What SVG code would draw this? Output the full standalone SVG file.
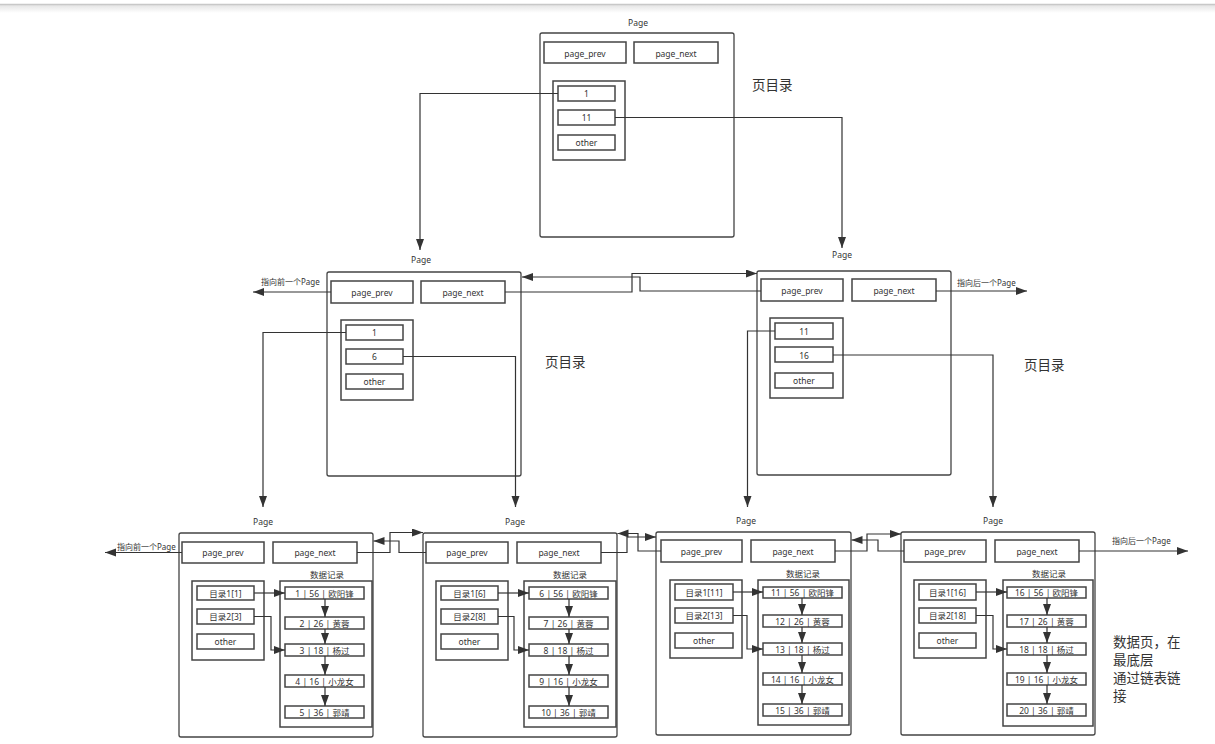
<svg xmlns="http://www.w3.org/2000/svg" width="1215" height="744" viewBox="0 0 1215 744">
<defs>
<marker id="ah" markerUnits="userSpaceOnUse" markerWidth="12" markerHeight="9" refX="11" refY="4" orient="auto">
<path d="M0,0 L11,4 L0,8 z" fill="#333"/>
</marker>
<linearGradient id="sh" x1="0" y1="0" x2="0" y2="1">
<stop offset="0" stop-color="#e4e4e4"/>
<stop offset="1" stop-color="#ffffff"/>
</linearGradient>
<style>
.pg{fill:#fff;stroke:#444;stroke-width:1.3}
.bx{fill:#fff;stroke:#444;stroke-width:1.5}
.t{font-family:"Noto Sans","Noto Sans CJK SC",sans-serif;font-size:8.5px;fill:#333;text-anchor:middle;dominant-baseline:central}
.tl{font-family:"Noto Sans","Noto Sans CJK SC",sans-serif;font-size:8px;fill:#333;dominant-baseline:central}
.big{font-family:"Noto Sans CJK SC",sans-serif;font-size:13.5px;fill:#333}
.ln{fill:none;stroke:#333;stroke-width:1.2}
.ar{fill:none;stroke:#333;stroke-width:1.2;marker-end:url(#ah)}
</style>
</defs>
<rect x="0" y="0" width="1215" height="744" fill="#fff"/>
<rect x="0" y="5" width="1215" height="8" fill="url(#sh)"/>
<line x1="0" y1="4.5" x2="1215" y2="4.5" stroke="#c8c8c8" stroke-width="1.5"/>

<!-- top page -->
<g id="page-top">
<text class="t" x="638" y="22">Page</text>
<rect class="pg" x="540" y="33" width="194" height="204" rx="2"/>
<rect class="bx" x="544" y="42" width="82" height="21"/><text class="t" x="585" y="53">page_prev</text>
<rect class="bx" x="634" y="42" width="84" height="21"/><text class="t" x="676" y="53">page_next</text>
<rect class="bx" x="553" y="81" width="72" height="79"/>
<rect class="bx" x="558" y="86" width="57" height="15"/><text class="t" x="586.5" y="93.5">1</text>
<rect class="bx" x="558" y="110" width="57" height="15"/><text class="t" x="586.5" y="117.5">11</text>
<rect class="bx" x="558" y="135" width="57" height="15"/><text class="t" x="586.5" y="142.5">other</text>
<text class="big" x="752" y="90">页目录</text>
</g>

<!-- middle left page -->
<g id="page-mid-left">
<text class="t" x="421" y="259">Page</text>
<rect class="pg" x="327" y="272" width="194" height="204" rx="2"/>
<rect class="bx" x="331" y="281" width="82" height="22"/><text class="t" x="372" y="292">page_prev</text>
<rect class="bx" x="421" y="281" width="84" height="22"/><text class="t" x="463" y="292">page_next</text>
<rect class="bx" x="341" y="320" width="72" height="80"/>
<rect class="bx" x="346" y="325" width="57" height="15"/><text class="t" x="374.5" y="332.5">1</text>
<rect class="bx" x="346" y="349" width="57" height="15"/><text class="t" x="374.5" y="356.5">6</text>
<rect class="bx" x="346" y="374" width="57" height="15"/><text class="t" x="374.5" y="381.5">other</text>
<text class="big" x="545" y="367">页目录</text>
<text class="tl" x="261" y="281">指向前一个Page</text>
</g>

<!-- middle right page -->
<g id="page-mid-right">
<text class="t" x="842" y="254">Page</text>
<rect class="pg" x="757" y="271" width="194" height="204" rx="2"/>
<rect class="bx" x="761" y="279" width="82" height="22"/><text class="t" x="802" y="290">page_prev</text>
<rect class="bx" x="852" y="279" width="84" height="22"/><text class="t" x="894" y="290">page_next</text>
<rect class="bx" x="770" y="318" width="73" height="80"/>
<rect class="bx" x="775" y="323" width="58" height="16"/><text class="t" x="804" y="331">11</text>
<rect class="bx" x="775" y="347" width="58" height="15"/><text class="t" x="804" y="355">16</text>
<rect class="bx" x="775" y="373" width="58" height="15"/><text class="t" x="804" y="380.5">other</text>
<text class="big" x="1024" y="370">页目录</text>
<text class="tl" x="957" y="282">指向后一个Page</text>
</g>

<!-- bottom page 1 -->
<g id="page-b1">
<text class="t" x="263" y="521">Page</text>
<rect class="pg" x="179" y="533" width="194" height="204" rx="2"/>
<rect class="bx" x="182" y="542" width="82" height="21"/><text class="t" x="223" y="552.5">page_prev</text>
<rect class="bx" x="273" y="542" width="84" height="21"/><text class="t" x="315" y="552.5">page_next</text>
<text class="t" x="327" y="574">数据记录</text>
<rect class="bx" x="192" y="581" width="72" height="79"/>
<rect class="bx" x="197" y="586" width="57" height="14"/><text class="t" x="225.5" y="593">目录1[1]</text>
<rect class="bx" x="197" y="609" width="57" height="15"/><text class="t" x="225.5" y="616.5">目录2[3]</text>
<rect class="bx" x="197" y="634" width="57" height="15"/><text class="t" x="225.5" y="641.5">other</text>
<rect class="bx" x="280" y="581" width="92" height="146"/>
<rect class="bx" x="285" y="587" width="79" height="12"/><text class="t" x="324.5" y="593">1 | 56 | 欧阳锋</text>
<rect class="bx" x="285" y="617" width="79" height="12"/><text class="t" x="324.5" y="623">2 | 26 | 黄蓉</text>
<rect class="bx" x="285" y="644" width="79" height="12"/><text class="t" x="324.5" y="650">3 | 18 | 杨过</text>
<rect class="bx" x="285" y="675" width="79" height="12"/><text class="t" x="324.5" y="681">4 | 16 | 小龙女</text>
<rect class="bx" x="285" y="706" width="79" height="12"/><text class="t" x="324.5" y="712">5 | 36 | 郭靖</text>
<text class="tl" x="117" y="546">指向前一个Page</text>
</g>

<!-- bottom page 2 -->
<g id="page-b2">
<text class="t" x="515" y="521">Page</text>
<rect class="pg" x="423" y="533" width="194" height="204" rx="2"/>
<rect class="bx" x="426" y="542" width="82" height="21"/><text class="t" x="467" y="552.5">page_prev</text>
<rect class="bx" x="517" y="542" width="84" height="21"/><text class="t" x="559" y="552.5">page_next</text>
<text class="t" x="570" y="574">数据记录</text>
<rect class="bx" x="436" y="581" width="72" height="79"/>
<rect class="bx" x="441" y="586" width="57" height="14"/><text class="t" x="469.5" y="593">目录1[6]</text>
<rect class="bx" x="441" y="609" width="57" height="15"/><text class="t" x="469.5" y="616.5">目录2[8]</text>
<rect class="bx" x="441" y="634" width="57" height="15"/><text class="t" x="469.5" y="641.5">other</text>
<rect class="bx" x="524" y="581" width="92" height="146"/>
<rect class="bx" x="529" y="587" width="79" height="12"/><text class="t" x="568.5" y="593">6 | 56 | 欧阳锋</text>
<rect class="bx" x="529" y="617" width="79" height="12"/><text class="t" x="568.5" y="623">7 | 26 | 黄蓉</text>
<rect class="bx" x="529" y="644" width="79" height="12"/><text class="t" x="568.5" y="650">8 | 18 | 杨过</text>
<rect class="bx" x="529" y="675" width="79" height="12"/><text class="t" x="568.5" y="681">9 | 16 | 小龙女</text>
<rect class="bx" x="529" y="706" width="79" height="12"/><text class="t" x="568.5" y="712">10 | 36 | 郭靖</text>
</g>

<!-- bottom page 3 -->
<g id="page-b3">
<text class="t" x="746" y="520">Page</text>
<rect class="pg" x="656" y="532" width="195" height="203" rx="2"/>
<rect class="bx" x="661" y="540" width="81" height="22"/><text class="t" x="701.5" y="551">page_prev</text>
<rect class="bx" x="751" y="540" width="84" height="22"/><text class="t" x="793" y="551">page_next</text>
<text class="t" x="803" y="573">数据记录</text>
<rect class="bx" x="670" y="580" width="72" height="78"/>
<rect class="bx" x="675" y="584" width="58" height="16"/><text class="t" x="704" y="592">目录1[11]</text>
<rect class="bx" x="675" y="608" width="58" height="15"/><text class="t" x="704" y="615.5">目录2[13]</text>
<rect class="bx" x="675" y="633" width="58" height="15"/><text class="t" x="704" y="640.5">other</text>
<rect class="bx" x="758" y="580" width="91" height="145"/>
<rect class="bx" x="763" y="587" width="79" height="11"/><text class="t" x="802.5" y="592.5">11 | 56 | 欧阳锋</text>
<rect class="bx" x="763" y="615" width="79" height="12"/><text class="t" x="802.5" y="621">12 | 26 | 黄蓉</text>
<rect class="bx" x="763" y="643" width="79" height="12"/><text class="t" x="802.5" y="649">13 | 18 | 杨过</text>
<rect class="bx" x="763" y="673" width="79" height="12"/><text class="t" x="802.5" y="679">14 | 16 | 小龙女</text>
<rect class="bx" x="763" y="704" width="79" height="12"/><text class="t" x="802.5" y="710">15 | 36 | 郭靖</text>
</g>

<!-- bottom page 4 -->
<g id="page-b4">
<text class="t" x="993" y="520">Page</text>
<rect class="pg" x="901" y="532" width="194" height="203" rx="2"/>
<rect class="bx" x="904" y="540" width="82" height="22"/><text class="t" x="945" y="551">page_prev</text>
<rect class="bx" x="995" y="540" width="84" height="22"/><text class="t" x="1037" y="551">page_next</text>
<text class="t" x="1049" y="573">数据记录</text>
<rect class="bx" x="914" y="580" width="72" height="78"/>
<rect class="bx" x="919" y="584" width="57" height="16"/><text class="t" x="947.5" y="592">目录1[16]</text>
<rect class="bx" x="919" y="608" width="57" height="15"/><text class="t" x="947.5" y="615.5">目录2[18]</text>
<rect class="bx" x="919" y="633" width="57" height="15"/><text class="t" x="947.5" y="640.5">other</text>
<rect class="bx" x="1003" y="580" width="90" height="146"/>
<rect class="bx" x="1007" y="587" width="79" height="11"/><text class="t" x="1046.5" y="592.5">16 | 56 | 欧阳锋</text>
<rect class="bx" x="1007" y="615" width="79" height="12"/><text class="t" x="1046.5" y="621">17 | 26 | 黄蓉</text>
<rect class="bx" x="1007" y="643" width="79" height="12"/><text class="t" x="1046.5" y="649">18 | 18 | 杨过</text>
<rect class="bx" x="1007" y="673" width="79" height="12"/><text class="t" x="1046.5" y="679">19 | 16 | 小龙女</text>
<rect class="bx" x="1007" y="704" width="79" height="12"/><text class="t" x="1046.5" y="710">20 | 36 | 郭靖</text>
<text class="tl" x="1112" y="540">指向后一个Page</text>
<text class="big" x="1113" y="647">数据页，在</text>
<text class="big" x="1113" y="665">最底层</text>
<text class="big" x="1113" y="683">通过链表链</text>
<text class="big" x="1113" y="701">接</text>
</g>

<g id="connectors">
<!-- top to middle -->
<path class="ar" d="M558,93.5 H420 V250"/>
<path class="ar" d="M615,117.5 H842 V248"/>
<!-- middle links -->
<path class="ar" d="M331,292 H253"/>
<path class="ar" d="M936,291 H1027"/>
<path class="ar" d="M505,292 H632 V273.5 H757"/>
<path class="ar" d="M761,291 H640 V277 H522"/>
<!-- middle to bottom -->
<path class="ar" d="M346,332.5 H263 V507"/>
<path class="ar" d="M403,356.5 H515.5 V507"/>
<path class="ar" d="M775,331 H747.5 V507"/>
<path class="ar" d="M833,355 H993 V507"/>
<!-- bottom page links -->
<path class="ar" d="M182,552.5 H105"/>
<path class="ar" d="M1079,551 H1188"/>
<path class="ar" d="M357,552.5 H390 V532.5 H423"/>
<path class="ar" d="M426,552.5 H399 V541 H373.5"/>
<path class="ar" d="M601,552.5 H627 V537 H656"/>
<path class="ar" d="M661,551 H638 V533.5 H617.5"/>
<path class="ar" d="M835,551 H867 V534 H901"/>
<path class="ar" d="M904,551 H878 V540 H851.5"/>
<!-- page 1 records -->
<path class="ar" d="M254,593 H285"/>
<path class="ar" d="M254,616.5 H271 V650 H285"/>
<path class="ar" d="M325,599 V617"/>
<path class="ar" d="M325,629 V644"/>
<path class="ar" d="M325,656 V675"/>
<path class="ar" d="M325,687 V706"/>
<!-- page 2 records -->
<path class="ar" d="M498,593 H529"/>
<path class="ar" d="M498,616.5 H514 V650 H529"/>
<path class="ar" d="M569,599 V617"/>
<path class="ar" d="M569,629 V644"/>
<path class="ar" d="M569,656 V675"/>
<path class="ar" d="M569,687 V706"/>
<!-- page 3 records -->
<path class="ar" d="M733,592 H763"/>
<path class="ar" d="M733,615.5 H747 V649 H763"/>
<path class="ar" d="M802,598 V615"/>
<path class="ar" d="M802,627 V643"/>
<path class="ar" d="M802,655 V673"/>
<path class="ar" d="M802,685 V704"/>
<!-- page 4 records -->
<path class="ar" d="M976,592 H1007"/>
<path class="ar" d="M976,615.5 H993 V649 H1007"/>
<path class="ar" d="M1047,598 V615"/>
<path class="ar" d="M1047,627 V643"/>
<path class="ar" d="M1047,655 V673"/>
<path class="ar" d="M1047,685 V704"/>
</g>
</svg>
